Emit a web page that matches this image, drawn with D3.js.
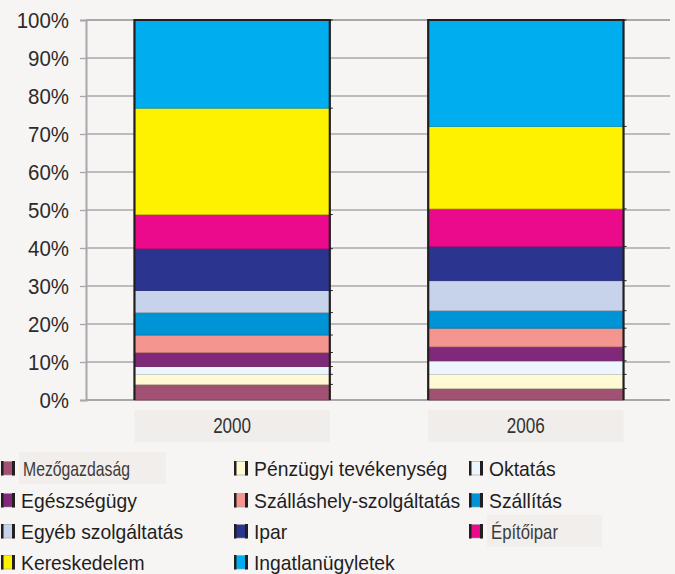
<!DOCTYPE html>
<html>
<head>
<meta charset="utf-8">
<script src="https://cdn.jsdelivr.net/npm/d3@7"></script>
<style>
  body { margin: 0; background: #f7f5f3; }
  svg { display: block; }
</style>
</head>
<body>
<svg id="chart" width="675" height="574"></svg>
<script>
var years = ["2000", "2006"];
var sectors = ["Mezőgazdaság", "Pénzügyi tevékenység", "Oktatás", "Egészségügy",
    "Szálláshely-szolgáltatás", "Szállítás", "Egyéb szolgáltatás", "Ipar",
    "Építőipar", "Kereskedelem", "Ingatlanügyletek"];
// share in percent, same order as sectors
var values2000 = [4.1, 2.65, 2.05, 3.7, 4.6, 5.9, 5.8, 11.0, 9.0, 28.0, 23.2];
var values2006 = [3.0, 3.75, 3.55, 3.7, 4.9, 4.6, 7.9, 9.0, 9.9, 21.7, 28.0];
var colorList = ["#a15272", "#fffad4", "#eef6fd", "#80297a", "#f4968f", "#0093d6",
    "#c7d3ea", "#2b3590", "#eb0a8c", "#fff200", "#00aeef"];
var tickValues = [0, 10, 20, 30, 40, 50, 60, 70, 80, 90, 100];

var rows = years.map(function (y, i) {
    var vals = i == 0 ? values2000 : values2006;
    var o = { year: y };
    sectors.forEach(function (s, j) { o[s] = vals[j]; });
    return o;
});

var color = d3.scaleOrdinal().domain(sectors).range(colorList);

var margin = { left: 86, top: 20 };
var plotBottom = 400;
var font = '"Liberation Sans", Arial, sans-serif';

var svg = d3.select('svg#chart');

var x = d3.scaleBand()
    .domain(years)
    .range([margin.left, 672])
    .paddingInner(0.335)
    .paddingOuter(0.165);

var y = d3.scaleLinear()
    .domain([0, 100])
    .range([plotBottom, margin.top]);

// squeeze text a little, the original face is narrower than Arial
function squeeze(sel, k) {
    sel.attr('textLength', function () { return this.getComputedTextLength() * k; })
        .attr('lengthAdjust', 'spacingAndGlyphs');
}

// grid lines
svg.append('g')
    .selectAll('line')
    .data(tickValues)
    .enter()
    .append('line')
    .attr('x1', margin.left)
    .attr('x2', 670)
    .attr('y1', function (d) { return y(d); })
    .attr('y2', function (d) { return y(d); })
    .attr('stroke', '#a8a8ac')
    .attr('stroke-width', function (d) { return d == 100 || d == 0 ? 2 : 1.3; });

// y axis
var yAxis = d3.axisLeft(y)
    .tickValues(tickValues)
    .tickSize(6)
    .tickFormat(function (d) { return d + '%'; });

var gy = svg.append('g')
    .attr('transform', 'translate(' + margin.left + ',0)')
    .call(yAxis);
gy.select('.domain')
    .attr('stroke', '#a8a8ac')
    .attr('stroke-width', 2);
gy.selectAll('.tick line')
    .attr('stroke', '#a8a8ac')
    .attr('stroke-width', 1.3);
gy.selectAll('.tick text')
    .attr('x', -17)
    .attr('dy', '0.36em')
    .attr('fill', '#2b2b2b')
    .style('font-family', font)
    .style('font-size', '22px')
    .call(squeeze, 0.93);

// stacked bars
var stack = d3.stack().keys(sectors);
var series = stack(rows);

var layers = svg.append('g')
    .selectAll('g')
    .data(series)
    .enter()
    .append('g')
    .attr('fill', function (d) { return color(d.key); })
    .attr('stroke', function (d) { return d3.color(color(d.key)).darker(0.6); });

layers.selectAll('rect')
    .data(function (d) { return d; })
    .enter()
    .append('rect')
    .attr('x', function (d) { return x(d.data.year); })
    .attr('width', x.bandwidth())
    .attr('y', function (d) { return y(d[1]); })
    .attr('height', function (d) { return y(d[0]) - y(d[1]); })
    .attr('stroke-width', 0.8);

// black sides and top of bars
var frame = svg.append('g')
    .selectAll('g')
    .data(years)
    .enter()
    .append('g');
frame.append('line')
    .attr('x1', function (d) { return x(d); })
    .attr('x2', function (d) { return x(d); })
    .attr('y1', y(100) - 1)
    .attr('y2', y(0));
frame.append('line')
    .attr('x1', function (d) { return x(d) + x.bandwidth(); })
    .attr('x2', function (d) { return x(d) + x.bandwidth(); })
    .attr('y1', y(100) - 1)
    .attr('y2', y(0));
frame.append('line')
    .attr('x1', function (d) { return x(d); })
    .attr('x2', function (d) { return x(d) + x.bandwidth(); })
    .attr('y1', y(100))
    .attr('y2', y(100));
frame.selectAll('line')
    .attr('stroke', '#231f20')
    .attr('stroke-width', 2.2);

// little marks on the right side at each boundary
series.forEach(function (s) {
    svg.append('g')
        .selectAll('line')
        .data(s)
        .enter()
        .append('line')
        .attr('x1', function (d) { return x(d.data.year) + x.bandwidth(); })
        .attr('x2', function (d) { return x(d.data.year) + x.bandwidth() + 3; })
        .attr('y1', function (d) { return y(d[1]); })
        .attr('y2', function (d) { return y(d[1]); })
        .attr('stroke', '#231f20')
        .attr('stroke-width', 1);
});

// x labels with light boxes
var xl = svg.append('g')
    .selectAll('g')
    .data(years)
    .enter()
    .append('g');
xl.append('rect')
    .attr('x', function (d) { return x(d); })
    .attr('y', 410)
    .attr('width', x.bandwidth())
    .attr('height', 32)
    .attr('fill', '#f1edea');
xl.append('text')
    .attr('x', function (d) { return x(d) + x.bandwidth() / 2 - 19; })
    .attr('y', 433)
    .attr('fill', '#333')
    .attr('textLength', 38)
    .attr('lengthAdjust', 'spacingAndGlyphs')
    .style('font-family', font)
    .style('font-size', '22px')
    .text(function (d) { return d; });

// legend
var colX = [1, 234, 469];
var rowY = [468, 500, 531, 562];
// these two labels are set in a narrower, lighter face on a pale box
var oddWidth = { "Mezőgazdaság": 107, "Építőipar": 67 };
var oddBox = { "Mezőgazdaság": 147, "Építőipar": 115 };

var legend = svg.append('g')
    .selectAll('g')
    .data(sectors)
    .enter()
    .append('g')
    .attr('transform', function (d, i) {
        return 'translate(' + colX[i % 3] + ',' + rowY[Math.floor(i / 3)] + ')';
    });

legend.filter(function (d) { return oddWidth[d]; })
    .append('rect')
    .attr('x', 18)
    .attr('y', -16)
    .attr('width', function (d) { return oddBox[d]; })
    .attr('height', 32)
    .attr('fill', '#f2eeeb');

legend.append('rect')
    .attr('x', 0.5)
    .attr('y', -6.5)
    .attr('width', 12.5)
    .attr('height', 13.5)
    .attr('fill', function (d) { return color(d); })
    .attr('stroke', '#9a9a9e')
    .attr('stroke-width', 0.6);
legend.append('rect')
    .attr('x', 0)
    .attr('y', -7)
    .attr('width', 2.5)
    .attr('height', 14.5)
    .attr('fill', '#231f20');
legend.append('rect')
    .attr('x', 11)
    .attr('y', -7)
    .attr('width', 3)
    .attr('height', 14.5)
    .attr('fill', '#231f20');

var ltext = legend.append('text')
    .attr('x', function (d) { return oddWidth[d] ? 22 : 20; })
    .attr('y', 7.5)
    .attr('fill', function (d) { return oddWidth[d] ? '#3c3c3c' : '#1e1e1e'; })
    .style('font-family', font)
    .style('font-size', '21px')
    .text(function (d) { return d; });

ltext.filter(function (d) { return !oddWidth[d]; })
    .call(squeeze, 0.92);
ltext.filter(function (d) { return oddWidth[d]; })
    .attr('textLength', function (d) { return oddWidth[d]; })
    .attr('lengthAdjust', 'spacingAndGlyphs');
</script>
</body>
</html>
